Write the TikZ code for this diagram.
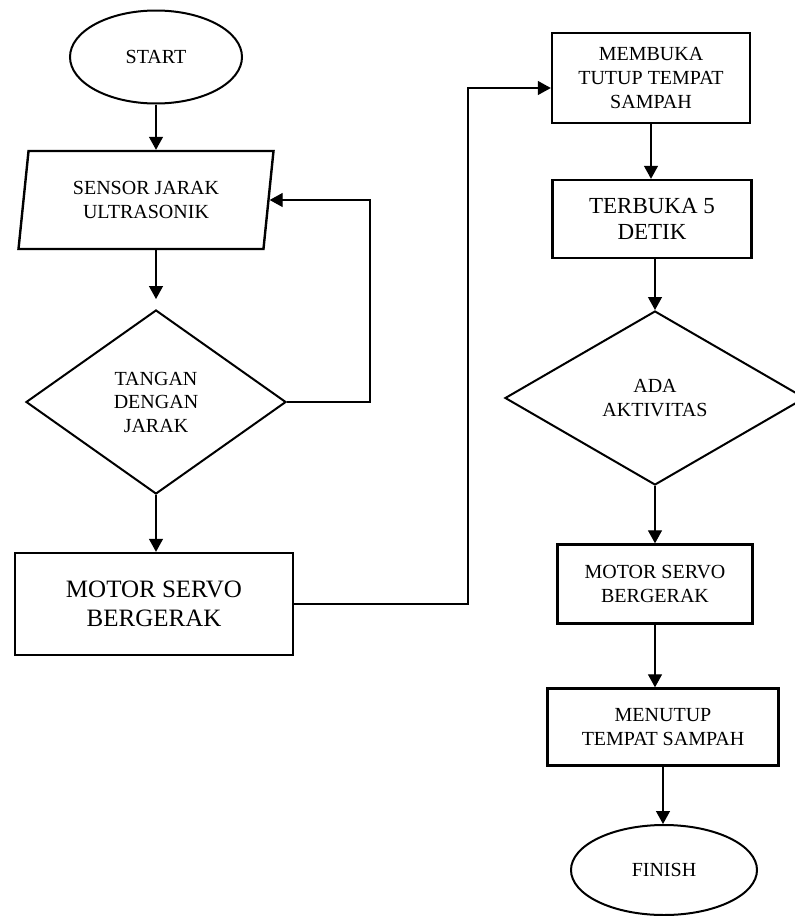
\documentclass[tikz,border=0pt]{standalone}
\usepackage{fontspec}
\setmainfont{Liberation Serif}
\usetikzlibrary{arrows.meta,shapes.geometric}

\begin{document}
\begin{tikzpicture}[x=1pt,y=-1pt,>={Triangle[length=13pt,width=14pt]},
	kotak/.style={shape=rectangle,draw,line width=2.4pt,align=center,inner sep=0pt,font=\fontsize{20}{24}\selectfont},
	oval/.style={shape=ellipse,draw,line width=2pt,inner sep=0pt,font=\fontsize{20}{24}\selectfont},
	keputusan/.style={shape=diamond,draw,line width=2pt,align=center,inner sep=0pt,font=\fontsize{20}{23.5}\selectfont},
	alir/.style={->,line width=1.3pt}]
					\useasboundingbox (0,0) rectangle (795,916);
					\node (start) [oval,minimum width=172,minimum height=93] at (156,57) {START};
					\node (sensor) [shape=trapezium,trapezium left angle=75,trapezium right angle=105,trapezium stretches body,draw,line width=2.4pt,align=center,inner sep=0pt,minimum width=255,minimum height=98,font=\fontsize{20}{24}\selectfont] at (146,200) {SENSOR JARAK\\ULTRASONIK};
					\node (tangan) [keputusan,minimum width=260,minimum height=184] at (156,402) {TANGAN\\DENGAN\\JARAK};
					\node (motorA) [kotak,minimum width=278,minimum height=102,font=\fontsize{25}{28.5}\selectfont] at (154,604) {MOTOR SERVO\\BERGERAK};
					\node (membuka) [kotak,minimum width=198,minimum height=90] at (651,78) {MEMBUKA\\TUTUP TEMPAT\\SAMPAH};
					\node (terbuka) [kotak,minimum width=199,minimum height=78,font=\fontsize{23}{26}\selectfont] at (652,219) {TERBUKA 5\\DETIK};
					\node (ada) [keputusan,minimum width=300,minimum height=174] at (655,398) {ADA\\AKTIVITAS};
					\node (motorB) [kotak,minimum width=195,minimum height=79] at (655,584) {MOTOR SERVO\\BERGERAK};
					\node (menutup) [kotak,minimum width=231,minimum height=77] at (663,727) {MENUTUP\\TEMPAT SAMPAH};
					\node (finish) [oval,minimum width=186,minimum height=90] at (664,870) {FINISH};

					\coordinate (balik) at (370,402);
					\coordinate (lompat) at (468,88);

					\draw[alir] (start.south) -- (start.south |- sensor.north);
					\draw[alir] (tangan.north |- sensor.south) -- (tangan.north) [shorten >=10pt];
					\draw[alir] (tangan.east) -- (balik) |- (sensor.east);
					\draw[alir] (tangan.south) -- (tangan.south |- motorA.north);
					\draw[alir] (motorA.east) -| (lompat) -- (membuka.west |- lompat);
					\draw[alir] (membuka.south) -- (membuka.south |- terbuka.north);
					\draw[alir] (ada.north |- terbuka.south) -- (ada.north);
					\draw[alir] (ada.south) -- (motorB.north);
					\draw[alir] (motorB.south) -- (menutup.north -| motorB.south);
					\draw[alir] (menutup.south) -- (menutup.south |- finish.north);
				\end{tikzpicture}
\end{document}
